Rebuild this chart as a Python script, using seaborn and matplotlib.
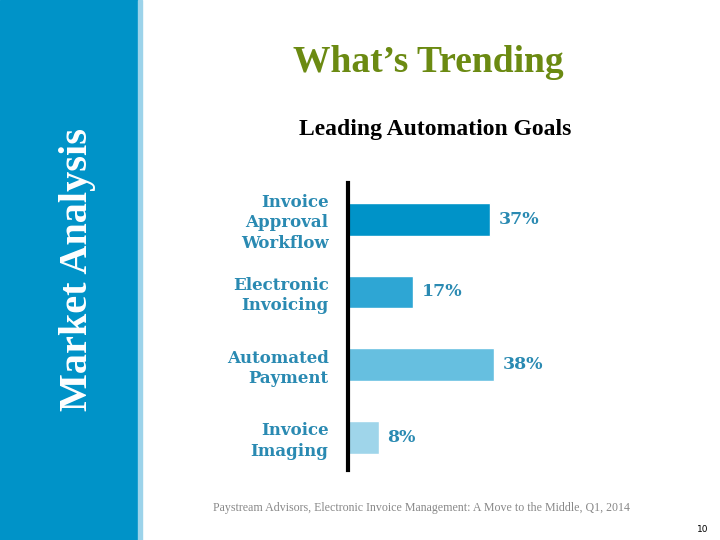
import seaborn as sns
import pandas as pd
import matplotlib.pyplot as plt
from matplotlib.patches import Rectangle

# data
goals = ["Invoice\nApproval\nWorkflow", "Electronic\nInvoicing", "Automated\nPayment", "Invoice\nImaging"]
shares = [37, 17, 38, 8]
bar_colors = ["#0093c8", "#2ea6d4", "#66bfe0", "#9fd5ea"]

title = "What\u2019s Trending"
subtitle = "Leading Automation Goals"
side_label = "Market Analysis"
source = "Paystream Advisors, Electronic Invoice Management: A Move to the Middle, Q1, 2014"
page_no = "10"

label_blue = "#2a8ab2"

sns.set_style("white")
plt.rcParams["font.family"] = ["DejaVu Serif", "DejaVu Sans"]

df = pd.DataFrame({"goal": goals, "share": shares})

fig = plt.figure(figsize=(7.2, 5.4), dpi=100)

# blue side panel
fig.patches.append(Rectangle((0, 0), 138 / 720, 1, transform=fig.transFigure,
                             color="#0093c8", zorder=0))
fig.patches.append(Rectangle((138 / 720, 0), 4 / 720, 1, transform=fig.transFigure,
                             color="#9cd3ea", zorder=0))
fig.text(78 / 720, 1 - 269 / 540, side_label, rotation=90, color="white",
         fontsize=29, fontweight="bold", family="Liberation Serif",
         ha="center", va="center")

fig.text(428 / 720, 1 - 62 / 540, title, color="#6b8a12", fontsize=27,
         fontweight="bold", family="Liberation Serif", ha="center", va="center")
fig.text(435 / 720, 1 - 130 / 540, subtitle, color="black", fontsize=17,
         fontweight="bold", family="Liberation Serif", ha="center", va="center")

ax = fig.add_axes([348 / 720, 1 - 470 / 540, 192 / 720, 287 / 540])
sns.barplot(data=df, x="share", y="goal", hue="goal", palette=bar_colors,
            orient="h", width=0.45, legend=False, ax=ax, saturation=1)

ax.set_xlim(0, 50)
ax.set_ylim(3.45, -0.5)
ax.set_xlabel("")
ax.set_ylabel("")
ax.set_xticks([])
ax.tick_params(axis="y", length=0, pad=14)
for lbl in ax.get_yticklabels():
    lbl.set_color(label_blue)
    lbl.set_fontweight("bold")
    lbl.set_fontsize(12)
    lbl.set_horizontalalignment("right")
    lbl.set_multialignment("right")
    lbl.set_linespacing(1.25)

for s in ["top", "right", "bottom"]:
    ax.spines[s].set_visible(False)
ax.spines["left"].set_linewidth(3)
ax.spines["left"].set_color("black")

for i, v in enumerate(shares):
    ax.text(v + 2.3, i, f"{v}%", color=label_blue, fontsize=12.5,
            fontweight="bold", ha="left", va="center")

fig.text(213 / 720, 1 - 508 / 540, source, color="#888888", fontsize=8.6,
         family="Liberation Serif", ha="left", va="center")
fig.text(703 / 720, 1 - 529 / 540, page_no, color="black", fontsize=6.5,
         family="DejaVu Sans", ha="center", va="center")

fig.savefig("out.png", dpi=100)
